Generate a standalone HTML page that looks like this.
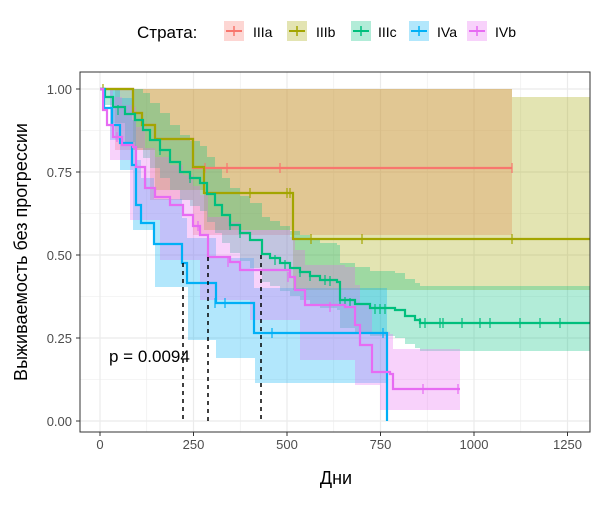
<!DOCTYPE html>
<html><head><meta charset="utf-8">
<style>
body{margin:0;background:#fff;}
svg text{font-family:"Liberation Sans",sans-serif;}
</style></head><body>
<svg id="s" width="600" height="500" xmlns="http://www.w3.org/2000/svg">
<rect width="600" height="500" fill="#fff"/>
<g id="grid"></g>
<g id="bands"></g>
<g id="lines"></g>
<g stroke="#000" stroke-width="1.5" stroke-dasharray="4,4">
<line x1="183" y1="263" x2="183" y2="421"/>
<line x1="208" y1="257" x2="208" y2="421"/>
<line x1="261" y1="255" x2="261" y2="421"/>
</g>
<text x="109" y="362" font-size="17" fill="#000">p = 0.0094</text>
<rect x="80" y="72" width="510" height="360" fill="none" stroke="#333" stroke-width="1"/>
<g font-size="13" fill="#4d4d4d" text-anchor="end">
<text x="72" y="94">1.00</text><text x="72" y="177">0.75</text><text x="72" y="260">0.50</text><text x="72" y="343">0.25</text><text x="72" y="426">0.00</text>
</g>
<g font-size="13" fill="#4d4d4d" text-anchor="middle">
<text x="100" y="449">0</text><text x="193.5" y="449">250</text><text x="287" y="449">500</text><text x="380.5" y="449">750</text><text x="474" y="449">1000</text><text x="567.5" y="449">1250</text>
</g>
<g stroke="#333" stroke-width="1">
<line x1="76" y1="89" x2="80" y2="89"/><line x1="76" y1="172" x2="80" y2="172"/><line x1="76" y1="255" x2="80" y2="255"/><line x1="76" y1="338" x2="80" y2="338"/><line x1="76" y1="421" x2="80" y2="421"/>
<line x1="100" y1="432" x2="100" y2="436"/><line x1="193.5" y1="432" x2="193.5" y2="436"/><line x1="287" y1="432" x2="287" y2="436"/><line x1="380.5" y1="432" x2="380.5" y2="436"/><line x1="474" y1="432" x2="474" y2="436"/><line x1="567.5" y1="432" x2="567.5" y2="436"/>
</g>
<text x="336" y="484" font-size="18" text-anchor="middle">Дни</text>
<text transform="translate(27,252) rotate(-90)" font-size="18" text-anchor="middle">Выживаемость без прогрессии</text>
<text x="137" y="38" font-size="17">Страта:</text>
<g id="legend"></g>
</svg>
<script>
const NS="http://www.w3.org/2000/svg";
function el(p,t,a){const e=document.createElementNS(NS,t);for(const k in a)e.setAttribute(k,a[k]);document.getElementById(p).appendChild(e);return e;}
[89,130.5,172,213.5,255,296.5,338,379.5,421].forEach((y,i)=>el("grid","line",{x1:80,x2:590,y1:y,y2:y,stroke:"#ebebeb","stroke-width":i%2?0.6:1.2}));
[100,146.75,193.5,240.25,287,333.75,380.5,427.25,474,520.75,567.5].forEach((x,i)=>el("grid","line",{y1:72,y2:432,x1:x,x2:x,stroke:"#ebebeb","stroke-width":i%2?0.6:1.2}));
function step(pts,end){let d="M"+pts[0][0]+","+pts[0][1];for(let i=1;i<pts.length;i++)d+=" H"+pts[i][0]+" V"+pts[i][1];d+=" H"+end;return d;}
function band(up,lo,end,col){let d=step(up,end);let l=lo.slice();let r="";d+=" V"+l[l.length-1][1];for(let i=l.length-1;i>0;i--){r+=" H"+l[i][0]+" V"+l[i-1][1];}d+=r+" H"+l[0][0]+" Z";el("bands","path",{d:d,fill:col,"fill-opacity":0.3,stroke:"none"});}
function off(c,o,mn,mx){return c.map(p=>[p[0],Math.max(mn,Math.min(mx,p[1]+o))]);}
const C={a:"#F8766D",b:"#A3A500",c:"#00BF7D",d:"#00B0F6",e:"#E76BF3"};
const red=[[100,89],[133,113],[142,125],[155,139],[193,168]];
const oli=[[100,89],[133,113],[142,125],[155,139],[193,167],[204,193],[293,239]];
const grn=[[100,89],[105,97],[113,107],[125,114],[135,120],[143,130],[150,140],[160,150],[170,162],[180,172],[190,178],[200,183],[207,194],[215,205],[222,215],[230,225],[240,233],[250,240],[262,254],[270,258],[280,263],[290,268],[300,272],[310,276],[320,280],[337,282],[340,300],[355,304],[370,308],[395,310],[405,316],[415,320],[420,323]];
const blu=[[100,89],[104,108],[112,125],[120,143],[132,165],[136,205],[141,223],[154,244],[182,263],[187,283],[216,303],[254,333],[387,421]];
const pnk=[[100,89],[103,110],[107,125],[113,137],[122,145],[133,147],[136,167],[145,188],[155,197],[170,205],[183,215],[193,226],[200,235],[208,257],[230,262],[240,270],[290,277],[295,290],[305,305],[345,307],[355,325],[360,345],[372,372],[390,374],[393,389]];
band([[100,89]],[[100,89],[115,150],[150,200],[193,235]],512,C.a);
band([[100,89],[512,97]],[[100,89],[133,150],[155,190],[204,230],[293,290]],590,C.b);
band(off(grn,-37,89,500),grn.map((p,i)=>[p[0],Math.min(421,p[1]+(i<3?i*8:28))]),590,C.c);
band(off(blu,-45,89,500),[[100,89],[110,140],[120,170],[133,230],[155,287],[188,340],[216,358],[255,383]],387,C.d);
band(off(pnk,-40,89,500),[[100,89],[110,160],[130,220],[160,260],[200,300],[250,320],[300,360],[355,385],[380,410]],460,C.e);
function line(pts,end,col,cens){el("lines","path",{d:step(pts,end),fill:"none",stroke:col,"stroke-width":2.2});
 cens.forEach(c=>el("lines","line",{x1:c[0],x2:c[0],y1:c[1]-5,y2:c[1]+5,stroke:col,"stroke-width":1.2}));}
line(red,512,C.a,[[205,168],[227,168],[280,168],[512,168]]);
line(oli,590,C.b,[[103,89],[250,193],[287,193],[290,193],[311,239],[362,239],[512,239]]);
line(grn,590,C.c,[[118,110],[160,150],[190,178],[230,225],[240,233],[275,260],[285,265],[300,272],[310,276],[325,280],[330,281],[340,301],[345,302],[350,303],[375,309],[380,309],[385,309],[420,323],[425,323],[440,323],[443,323],[462,323],[480,323],[490,323],[520,323],[540,323],[560,323]]);
line(blu,387,C.d,[[215,303],[225,303],[272,333],[383,333]]);
line(pnk,460,C.e,[[117,137],[198,226],[228,262],[288,277],[330,307],[423,389],[458,389]]);
const L=[["IIIa",224,253,C.a],["IIIb",287,316,C.b],["IIIc",351,378,C.c],["IVa",409,437,C.d],["IVb",467,495,C.e]];
L.forEach(l=>{el("legend","rect",{x:l[1],y:21,width:20,height:20,fill:l[3],"fill-opacity":0.3});
el("legend","line",{x1:l[1]+2,x2:l[1]+18,y1:31,y2:31,stroke:l[3],"stroke-width":2});
el("legend","line",{x1:l[1]+10,x2:l[1]+10,y1:26,y2:36,stroke:l[3],"stroke-width":1.5});
const t=el("legend","text",{x:l[2],y:37,"font-size":14,fill:"#000"});t.textContent=l[0];});
</script>
</body></html>
